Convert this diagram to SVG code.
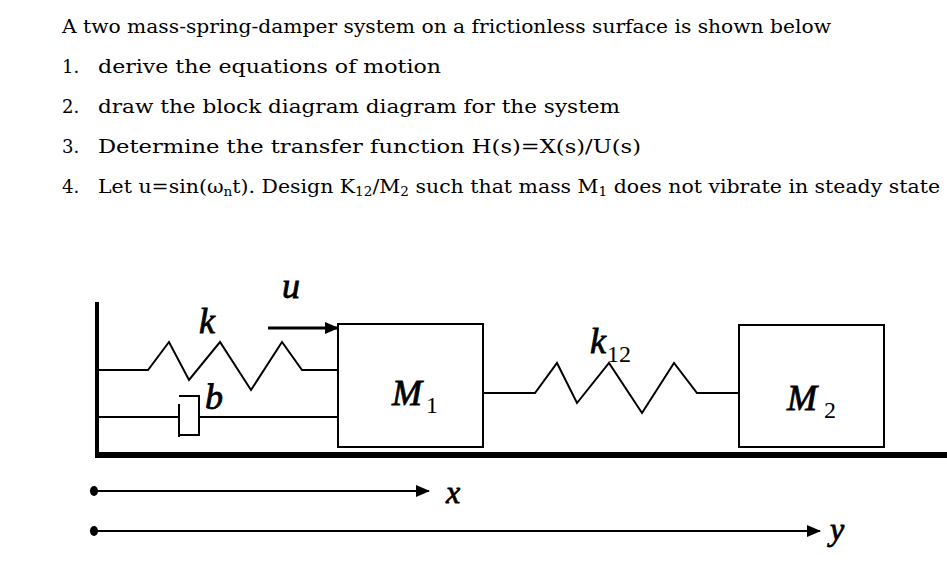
<svg xmlns="http://www.w3.org/2000/svg" width="947" height="575" viewBox="0 0 947 575">
<style>
.t{font-family:"DejaVu Serif",serif;font-size:18px;fill:#000}
.m{font-family:"Liberation Serif",serif;font-style:italic;fill:#000;stroke:#000;stroke-width:0.8}
.s{font-family:"Liberation Serif",serif;font-size:24px;fill:#000}
.l{fill:none;stroke:#000;stroke-width:2}
</style>
<defs><marker id="ah" markerWidth="14" markerHeight="12" refX="13" refY="6" orient="auto" markerUnits="userSpaceOnUse"><path d="M0,0L14,6L0,12z" fill="#000"/></marker></defs>
<rect width="947" height="575" fill="#fff"/>
<g id="text">
<text class="t" x="62" y="33" textLength="769" lengthAdjust="spacingAndGlyphs">A two mass-spring-damper system on a frictionless surface is shown below</text>
<text class="t" x="62" y="73">1.</text><text class="t" x="98" y="73" textLength="343" lengthAdjust="spacingAndGlyphs">derive the equations of motion</text>
<text class="t" x="62" y="113">2.</text><text class="t" x="98" y="113" textLength="522" lengthAdjust="spacingAndGlyphs">draw the block diagram diagram for the system</text>
<text class="t" x="62" y="153">3.</text><text class="t" x="98" y="153" textLength="543" lengthAdjust="spacingAndGlyphs">Determine the transfer function H(s)=X(s)/U(s)</text>
<text class="t" x="62" y="193">4.</text>
<text class="t" x="98" y="193" textLength="842" lengthAdjust="spacingAndGlyphs">Let u=sin(ω<tspan font-size="12" dy="3">n</tspan><tspan dy="-3">t). Design K</tspan><tspan font-size="12" dy="3">12</tspan><tspan dy="-3">/M</tspan><tspan font-size="12" dy="3">2</tspan><tspan dy="-3"> such that mass M</tspan><tspan font-size="12" dy="3">1</tspan><tspan dy="-3"> does not vibrate in steady state</tspan></text>
</g>
<g id="ground"><rect x="95" y="302" width="4" height="155" fill="#000"/><rect x="95" y="452" width="852" height="6" fill="#000"/></g>
<g id="M1"><rect x="338" y="324" width="145" height="123" class="l"/><text class="m" x="392" y="405" font-size="36">M</text><text class="s" x="426" y="413">1</text></g>
<g id="M2"><rect x="739" y="325" width="145" height="122" class="l"/><text class="m" x="787" y="410" font-size="36">M</text><text class="s" x="824" y="418">2</text></g>
<g id="connectors">
<polyline class="l" points="97,370 148,370 169,342 189,380 220,342 251,390 282,342 302,370 338,370"/>
<path class="l" d="M97,417H179M179,404V437M179,396H199V435H179M199,417H338"/>
<polyline class="l" points="483,393 535,393 557,363 577,403 609,363 642,413 674,363 697,393 740,393"/>
<line x1="268" y1="328" x2="338" y2="328" stroke="#000" stroke-width="3" marker-end="url(#ah)"/>
<line x1="94" y1="491" x2="429" y2="491" stroke="#000" stroke-width="2" marker-end="url(#ah)"/>
<line x1="94" y1="531" x2="820" y2="531" stroke="#000" stroke-width="2" marker-end="url(#ah)"/>
<ellipse cx="94" cy="491" rx="4" ry="5"/><ellipse cx="94" cy="531" rx="4" ry="5"/>
</g>
<g id="labels">
<text class="m" x="199" y="333" font-size="36">k</text>
<text class="m" x="282" y="298" font-size="36">u</text>
<text class="m" x="205" y="409" font-size="36">b</text>
<text class="m" x="590" y="353" font-size="36">k</text><text class="s" x="607" y="362">12</text>
<text class="m" x="446" y="503" font-size="32">x</text>
<text class="m" x="830" y="540" font-size="32">y</text>
</g>
</svg>
